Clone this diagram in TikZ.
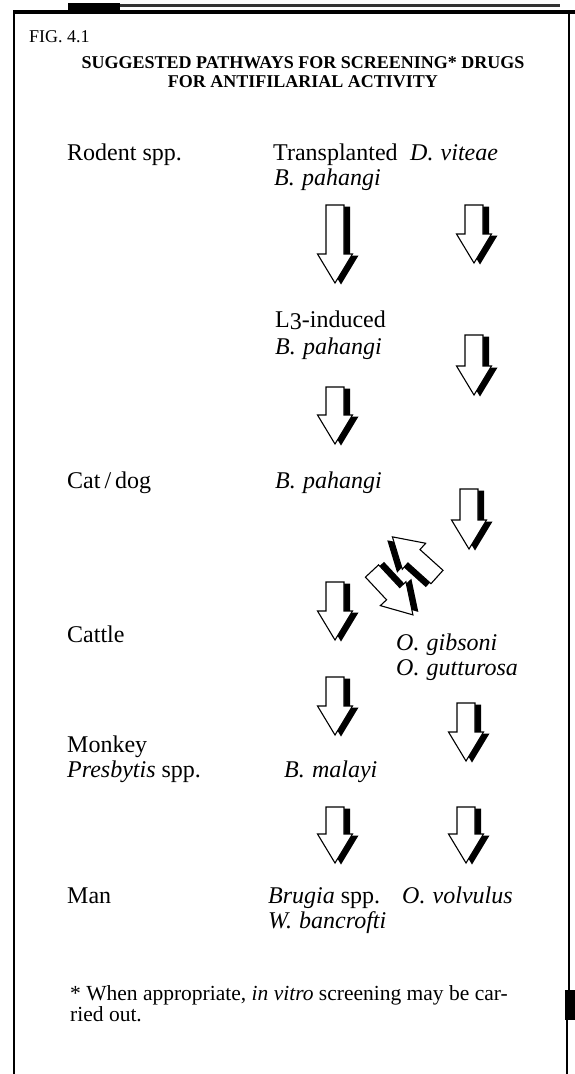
\documentclass[tikz,border=0pt]{standalone}
\usepackage{fontspec}
\setmainfont{Liberation Serif}
\begin{document}
\begin{tikzpicture}[x=1pt,y=-1pt,
  lbl/.style={anchor=base west, inner sep=0pt, font=\fontsize{24}{28}\selectfont},
  sp/.style={anchor=base west, inner sep=0pt, font=\fontsize{24}{28}\selectfont\itshape},
  ttl/.style={anchor=base, inner sep=0pt, font=\fontsize{18}{22}\selectfont\bfseries},
  note/.style={anchor=base west, inner sep=0pt, font=\fontsize{21.5}{25}\selectfont},
  frame/.style={line width=2pt, black},
  % hollow block arrow with a heavy shadow on one flank; #1 = length
  pics/blockarrow/.style={code={
    \fill[black, shift={(6,1.5)}] (-9,0) -- (9,0) -- (9,{#1-29}) -- (17.5,{#1-29})
      -- (0,#1) -- (-17.5,{#1-29}) -- (-9,{#1-29}) -- cycle;
    \filldraw[fill=white, draw=black, line width=1.1pt, line join=miter]
      (-9,0) -- (9,0) -- (9,{#1-29}) -- (17.5,{#1-29})
      -- (0,#1) -- (-17.5,{#1-29}) -- (-9,{#1-29}) -- cycle;
  }}]
\useasboundingbox (0,0) rectangle (575,1074);

% frame
\draw[frame] (13.5,10) -- (13.5,1074);
\draw[line width=3.5pt] (13,12) -- (575,12);
\fill (68,3) rectangle (120,12);
\draw[line width=3pt, black!80] (120,5) -- (560,5);
\draw[frame] (568.5,12) -- (568.5,990);
\fill (565,990) rectangle (575,1020);
\draw[frame] (567,1020) -- (567,1074);

% heading
\node[anchor=base west, inner sep=0pt, font=\fontsize{18}{22}\selectfont] (fig) at (29,42) {FIG. 4.1};
\node[ttl] (t1) at (303,68) {SUGGESTED PATHWAYS FOR SCREENING* DRUGS};
\node[ttl] (t2) at (303,87) {FOR ANTIFILARIAL ACTIVITY};

% host column
\node[lbl] (rodent) at (67,160) {Rodent spp.};
\node[lbl] (cat) at (67,488) {Cat\,/\,dog};
\node[lbl] (cattle) at (67,642) {Cattle};
\node[lbl] (monkey) at (67,752) {Monkey};
\node[lbl] (presb) at (67,777) {\textit{Presbytis} spp.};
\node[lbl] (man) at (67,903) {Man};

% Brugia column
\node[lbl] (transpl) at (273,160) {Transplanted};
\node[sp] (bp1) at (274,185) {B.\hspace{0.3em}pahangi};
\node[lbl] (lthree) at (275,327) {L\raisebox{-0.2ex}{3}-induced};
\node[sp] (bp2) at (275,354) {B.\hspace{0.3em}pahangi};
\node[sp] (bp3) at (275,488) {B.\hspace{0.3em}pahangi};
\node[sp] (bmal) at (284,777) {B.\hspace{0.3em}malayi};
\node[lbl] (brugia) at (268,903) {\textit{Brugia} spp.};
\node[sp] (wban) at (268,928) {W.\hspace{0.3em}bancrofti};

% Onchocerca column
\node[sp] (dvit) at (410,160) {D.\hspace{0.3em}viteae};
\node[sp] (ogib) at (396,650) {O.\hspace{0.3em}gibsoni};
\node[sp] (ogut) at (396,675) {O.\hspace{0.3em}gutturosa};
\node[sp] (ovol) at (402,903) {O.\hspace{0.3em}volvulus};

% arrow tails
\coordinate (a1) at (335,205);
\coordinate (a2) at (335,387);
\coordinate (a3) at (335,582);
\coordinate (a4) at (335,677);
\coordinate (a5) at (335,807);
\coordinate (b1) at (474,205);
\coordinate (b2) at (474,335);
\coordinate (b3) at (469,489);
\coordinate (b4) at (466,703);
\coordinate (b5) at (466,807);
\coordinate (up) at (437,577);
\coordinate (dn) at (372,571);

\pic (A1) at (a1) {blockarrow=78};
\pic (A2) at (a2) {blockarrow=57};
\pic (A3) at (a3) {blockarrow=58};
\pic (A4) at (a4) {blockarrow=58};
\pic (A5) at (a5) {blockarrow=56};
\pic (B1) at (b1) {blockarrow=58};
\pic (B2) at (b2) {blockarrow=60};
\pic (B3) at (b3) {blockarrow=60};
\pic (B4) at (b4) {blockarrow=58};
\pic (B5) at (b5) {blockarrow=56};
\pic[rotate=-132] (U) at (up) {blockarrow=60};
\pic[rotate=43] (D) at (dn) {blockarrow=60};

% footnote
\node[note] (fn1) at (70,1000) {* When appropriate, \textit{in vitro} screening may be car-};
\node[note] (fn2) at (70,1021) {ried out.};
\end{tikzpicture}
\end{document}
